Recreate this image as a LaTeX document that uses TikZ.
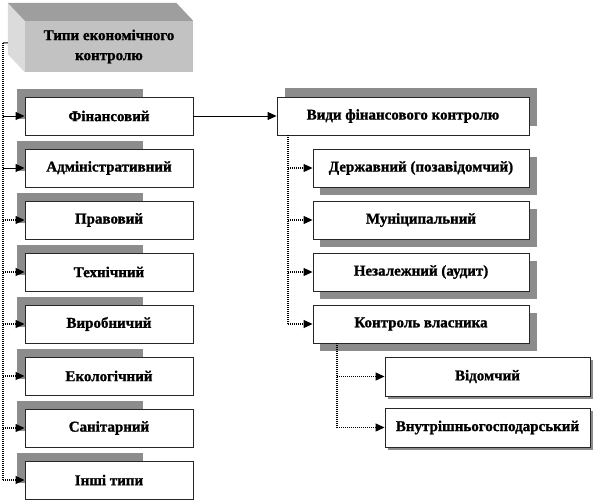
\documentclass[tikz,border=0pt]{standalone}
\usepackage{fontspec}
\setmainfont{Liberation Serif}[BoldFeatures={FakeBold=1.2}]
\usetikzlibrary{arrows.meta,calc}
\tikzset{
  box/.style={draw=black!85, line width=0.9pt, fill=white, font=\fontsize{15}{17}\selectfont\bfseries, inner sep=0pt},
  lbox/.style={box, minimum width=168pt, minimum height=38pt},
  sbox/.style={box, minimum width=216pt, minimum height=38pt},
  shad/.style={fill=black!45},
  tip/.style={-{Triangle[length=9pt,width=8pt]}},
  solidcon/.style={line width=1pt},
  dotcon/.style={line width=1.1pt, dash pattern=on 1pt off 1pt},
}
\begin{document}
\begin{tikzpicture}[x=1pt,y=-1pt]
\useasboundingbox (0,0) rectangle (594,503);
% ---- shadows ----
\foreach \cy in {116,168,220,272,324,376,428,480}
  \fill[shad] (17,\cy-27) rectangle (143,\cy+3);
\fill[shad] (285,88) rectangle (537,126);
\foreach \cy in {168,220,272,324}
  \fill[shad] (320,\cy-11) rectangle (537,\cy+27);
\fill[shad] (388,360) rectangle (593,399);
\fill[shad] (388,411) rectangle (593,450);
% ---- 3D title box ----
\node[fill=black!24, minimum width=168pt, minimum height=51pt, inner sep=0pt,
      align=center, font=\fontsize{15}{20}\selectfont\bfseries] (top) at (109,46.5)
      {Типи економічного\\контролю};
\fill[black!14] (top.north west) -- ++(-17,-18) -- ($(top.south west)+(-17,-18)$) -- (top.south west) -- cycle;
\fill[black!38] (top.north west) -- ++(-17,-18) -- ($(top.north east)+(-17,-18)$) -- (top.north east) -- cycle;
% ---- left column ----
\node[lbox] (f1) at (109,116) {Фінансовий};
\node[lbox] (f2) at (109,168) {Адміністративний};
\node[lbox] (f3) at (109,220) {Правовий};
\node[lbox] (f4) at (109,272) {Технічний};
\node[lbox] (f5) at (109,324) {Виробничий};
\node[lbox] (f6) at (109,376) {Екологічний};
\node[lbox] (f7) at (109,428) {Санітарний};
\node[lbox] (f8) at (109,480) {Інші типи};
% ---- right column ----
\node[box, minimum width=252pt, minimum height=38pt] (vid) at (403,116) {Види фінансового контролю};
\node[sbox] (s1) at (421,168) {Державний (позавідомчий)};
\node[sbox] (s2) at (421,220) {Муніципальний};
\node[sbox] (s3) at (421,272) {Незалежний (аудит)};
\node[sbox] (s4) at (421,324) {Контроль власника};
\node[box, minimum width=205pt, minimum height=39pt] (o1) at (487.5,376.5) {Відомчий};
\node[box, minimum width=205pt, minimum height=39pt] (o2) at (487.5,427.5) {Внутрішньогосподарський};
% ---- connectors ----
\coordinate (tl) at (3,43);
\coordinate (tb) at ($(top.north west)+(-17,22)$);
\draw[solidcon] (tb) -- (tl);
\draw[dotcon] (tl) -- (tl |- f8.west);
\draw[solidcon,tip] (tl |- f1.west) -- (f1.west);
\draw[solidcon,tip] (tl |- f2.west) -- (f2.west);
\foreach \n in {f3,f4,f5,f6,f7,f8}
  \draw[dotcon,tip] (tl |- \n.west) -- (\n.west);
\draw[solidcon,tip] (f1.east) -- (vid.west);
\coordinate (vr) at ([xshift=-115pt]vid.south);
\draw[dotcon] (vr) -- (vr |- s4.west);
\foreach \n in {s1,s2,s3,s4}
  \draw[dotcon,tip] (vr |- \n.west) -- (\n.west);
\coordinate (kr) at ([xshift=-84pt]s4.south);
\draw[dotcon] (kr) -- (kr |- o2.west);
\foreach \n in {o1,o2}
  \draw[dotcon,tip] (kr |- \n.west) -- (\n.west);
\end{tikzpicture}
\end{document}
